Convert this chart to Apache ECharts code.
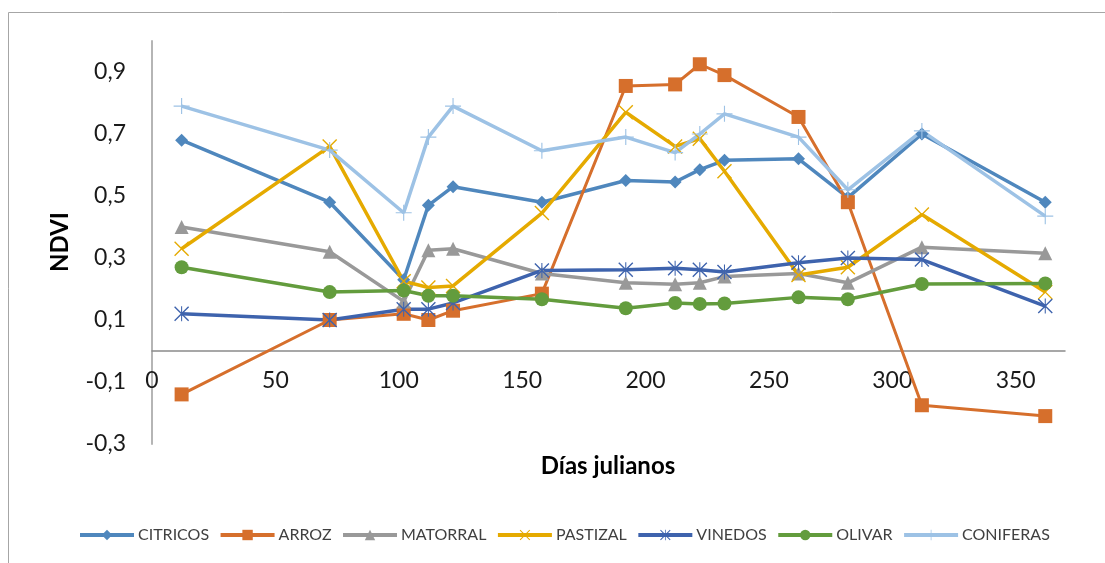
<!DOCTYPE html>
<html>
<head>
<meta charset="utf-8">
<script src="https://cdn.jsdelivr.net/npm/echarts@6/dist/echarts.min.js"></script>
<style>
  html, body { margin: 0; padding: 0; background: #ffffff; }
  #chart { width: 1105px; height: 563px; }
</style>
</head>
<body>
<div id="chart"></div>
<script>
// Días julianos de cada fecha de la serie temporal
const days = [12, 72, 102, 112, 122, 158, 192, 212, 222, 232, 262, 282, 312, 362];

// NDVI medio por cubierta
const citricos  = [0.68, 0.48, 0.23, 0.47, 0.53, 0.48, 0.55, 0.545, 0.585, 0.615, 0.62, 0.495, 0.70, 0.48];
const arroz     = [-0.14, 0.10, 0.12, 0.10, 0.13, 0.185, 0.855, 0.86, 0.925, 0.89, 0.755, 0.48, -0.175, -0.21];
const matorral  = [0.40, 0.32, 0.16, 0.325, 0.33, 0.25, 0.22, 0.215, 0.22, 0.24, 0.25, 0.22, 0.335, 0.315];
const pastizal  = [0.33, 0.66, 0.225, 0.205, 0.21, 0.445, 0.77, 0.66, 0.685, 0.58, 0.245, 0.27, 0.44, 0.19];
const vinedos   = [0.12, 0.10, 0.135, 0.135, 0.155, 0.26, 0.262, 0.267, 0.262, 0.255, 0.285, 0.30, 0.295, 0.145];
const olivar    = [0.27, 0.19, 0.195, 0.178, 0.178, 0.167, 0.138, 0.155, 0.152, 0.153, 0.173, 0.167, 0.216, 0.218];
const coniferas = [0.79, 0.648, 0.446, 0.69, 0.79, 0.646, 0.69, 0.64, 0.70, 0.765, 0.69, 0.52, 0.71, 0.435];

const seriesNames = ['CITRICOS', 'ARROZ', 'MATORRAL', 'PASTIZAL', 'VINEDOS', 'OLIVAR', 'CONIFERAS'];
const seriesValues = [citricos, arroz, matorral, pastizal, vinedos, olivar, coniferas];

// Eje X: rango y paso de las marcas
const xTicks = { min: 0, max: 370, step: 50 };
// Eje Y: rango y paso de las marcas
const yTicks = { min: -0.3, max: 1.0, step: 0.2 };

// Área de trazado
const grid = { left: 152, right: 40, top: 41, bottom: 119 };
const plotHeight = 563 - grid.top - grid.bottom;
// El eje X (línea y rótulos) se sitúa en NDVI = 0
const xAxisOffset = -plotHeight * (0 - yTicks.min) / (yTicks.max - yTicks.min);

// Marcadores trazados como polígonos finos
const crossPath = 'path://M0,1.3L1.3,0L20,18.7L18.7,20Z M18.7,0L20,1.3L1.3,20L0,18.7Z';
const starPath  = 'path://M0,1.3L1.3,0L20,18.7L18.7,20Z M18.7,0L20,1.3L1.3,20L0,18.7Z M9.3,0L10.7,0L10.7,20L9.3,20Z';
const plusPath  = 'path://M9.3,0L10.7,0L10.7,20L9.3,20Z M0,9.3L20,9.3L20,10.7L0,10.7Z';

const styles = [
  { color: '#4f87bd', symbol: 'diamond',  size: 13, width: 3.5 },
  { color: '#d66f2c', symbol: 'rect',     size: 14, width: 3 },
  { color: '#999999', symbol: 'triangle', size: 14, width: 3.5 },
  { color: '#e5aa00', symbol: crossPath,  size: 15, width: 3.5 },
  { color: '#3e63ad', symbol: starPath,   size: 15, width: 3.5 },
  { color: '#639c3d', symbol: 'circle',   size: 14, width: 3.5 },
  { color: '#9dc2e5', symbol: plusPath,   size: 16, width: 3.5 }
];

const fmtComma = v => (Math.round(v * 10) / 10).toFixed(1).replace('.', ',');

const chart = echarts.init(document.getElementById('chart'), null, { renderer: 'canvas' });

chart.setOption({
  animation: false,
  backgroundColor: '#ffffff',
  textStyle: { fontFamily: 'Lato, "Open Sans", sans-serif' },
  grid: grid,
  legend: {
    data: seriesNames,
    left: 78,
    top: 527,
    padding: 0,
    itemWidth: 54,
    itemHeight: 13,
    itemGap: 9.5,
    lineStyle: { width: 4 },
    textStyle: { fontFamily: 'Lato', fontSize: 16, color: '#404040', padding: [0, 0, 0, -1] }
  },
  xAxis: {
    type: 'value',
    min: xTicks.min,
    max: xTicks.max,
    interval: xTicks.step,
    offset: xAxisOffset,
    axisLine: { onZero: false, lineStyle: { color: '#8a8a8a', width: 1.5 } },
    axisTick: { show: false },
    splitLine: { show: false },
    axisLabel: {
      showMaxLabel: false,
      margin: 18,
      fontFamily: 'Lato',
      fontSize: 23,
      color: '#1a1a1a'
    }
  },
  yAxis: {
    type: 'value',
    min: yTicks.min,
    max: yTicks.max,
    interval: yTicks.step,
    axisLine: { show: true, lineStyle: { color: '#b5b5b5', width: 2 } },
    axisTick: { show: false },
    splitLine: { show: false },
    axisLabel: {
      showMaxLabel: false,
      margin: 26,
      fontFamily: 'Lato',
      fontSize: 23,
      color: '#1a1a1a',
      formatter: fmtComma
    }
  },
  graphic: [
    {
      type: 'rect',
      silent: true,
      shape: { x: 8.5, y: 12.5, width: 1200, height: 700 },
      style: { fill: 'none', stroke: '#a6a6a6', lineWidth: 1 }
    },
    {
      type: 'text',
      x: 608, y: 466,
      style: {
        text: 'Días julianos',
        font: 'bold 24px Lato',
        fill: '#000000',
        textAlign: 'center',
        textVerticalAlign: 'middle'
      }
    },
    {
      type: 'text',
      x: 60, y: 242,
      rotation: Math.PI / 2,
      style: {
        text: 'NDVI',
        font: 'bold 24px Lato',
        fill: '#000000',
        textAlign: 'center',
        textVerticalAlign: 'middle'
      }
    }
  ],
  series: seriesNames.map((name, i) => ({
    name: name,
    type: 'line',
    data: days.map((d, j) => [d, seriesValues[i][j]]),
    symbol: styles[i].symbol,
    symbolSize: styles[i].size,
    showAllSymbol: true,
    color: styles[i].color,
    lineStyle: { color: styles[i].color, width: styles[i].width },
    itemStyle: { color: styles[i].color, borderWidth: 0 },
    emphasis: { disabled: true }
  }))
});
</script>
</body>
</html>
